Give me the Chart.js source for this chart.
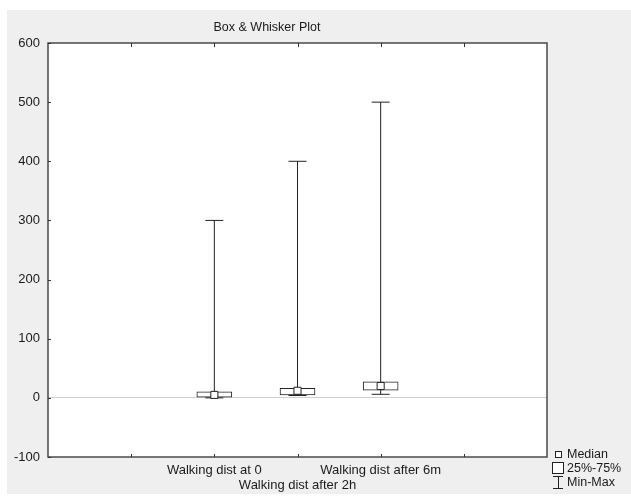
<!DOCTYPE html>
<html>
<head>
<meta charset="utf-8">
<script src="https://cdn.jsdelivr.net/npm/chart.js@4/dist/chart.umd.min.js"></script>
<style>
  html, body { margin: 0; padding: 0; background: #fff; }
  canvas { display: block; }
</style>
</head>
<body>
<canvas id="c" width="631" height="497"></canvas>
<script>
// ---- data ----
const categories = ['Walking dist at 0', 'Walking dist after 2h', 'Walking dist after 6m'];
const minValues    = [0, 4, 6];
const q1Values     = [1, 5, 13];
const medianValues = [5, 12, 20];
const q3Values     = [10, 16, 27];
const maxValues    = [300, 400, 500];
const yTicks = [-100, 0, 100, 200, 300, 400, 500, 600];
const xTickPositions = [1, 2, 3, 4, 5];
const boxPositions = [2, 3, 4];
const titleText = 'Box & Whisker Plot';
const legendLabels = ['Median', '25%-75%', 'Min-Max'];

const FONT = "'Liberation Sans', Arial, Helvetica, sans-serif";
const INK = '#1a1a1a';

// whisker segments (line broken by null points)
const whiskerData = [];
boxPositions.forEach((x, i) => {
  whiskerData.push({x: x, y: minValues[i]});
  whiskerData.push({x: x, y: maxValues[i]});
  whiskerData.push({x: x + 0.5, y: null});
});
const capData = [];
boxPositions.forEach((x, i) => {
  capData.push({x: x, y: minValues[i]});
  capData.push({x: x, y: maxValues[i]});
});
const boxData = boxPositions.map((x, i) => ({x: x, y: [q1Values[i], q3Values[i]]}));
const medianData = boxPositions.map((x, i) => ({x: x, y: medianValues[i]}));

function labelFor(v) {
  const idx = boxPositions.indexOf(v);
  if (idx < 0) return '';
  return idx % 2 === 0 ? [categories[idx]] : ['', categories[idx]];
}

const decorPlugin = {
  id: 'decor',
  beforeDraw(chart) {
    const c = chart.ctx, a = chart.chartArea;
    c.save();
    c.fillStyle = '#ffffff';
    c.fillRect(0, 0, chart.width, chart.height);
    c.fillStyle = '#efefef';
    c.fillRect(7, 10, chart.width - 7, 484);
    c.fillStyle = '#ffffff';
    c.fillRect(a.left, a.top, a.right - a.left, a.bottom - a.top);
    c.restore();
  },
  afterDraw(chart) {
    const c = chart.ctx, a = chart.chartArea;
    const xs = chart.scales.x, ys = chart.scales.y;
    c.save();
    // frame
    c.strokeStyle = '#4a4a4a';
    c.lineWidth = 1.5;
    c.strokeRect(a.left, a.top, a.right - a.left, a.bottom - a.top);
    // inner ticks
    c.lineWidth = 1;
    c.strokeStyle = '#333';
    c.beginPath();
    xTickPositions.forEach(v => {
      const px = Math.round(xs.getPixelForValue(v)) + 0.5;
      c.moveTo(px, a.top); c.lineTo(px, a.top + 4);
      c.moveTo(px, a.bottom); c.lineTo(px, a.bottom - 3);
    });
    yTicks.forEach(v => {
      const py = Math.round(ys.getPixelForValue(v)) + 0.5;
      c.moveTo(a.left, py); c.lineTo(a.left + 3, py);
    });
    c.stroke();
    // title
    c.fillStyle = INK;
    c.font = '12.5px ' + FONT;
    c.textAlign = 'center';
    c.textBaseline = 'middle';
    c.fillText(titleText, 267, 28);
    // legend
    const lx = 558, rows = [454, 468, 482];
    c.strokeStyle = '#222';
    c.lineWidth = 1;
    c.fillStyle = '#fff';
    c.fillRect(lx - 3, rows[0] - 3, 6, 6);
    c.strokeRect(lx - 3 + 0.5, rows[0] - 3 + 0.5, 6, 6);
    c.fillRect(lx - 6, rows[1] - 6, 11, 11);
    c.strokeRect(lx - 6 + 0.5, rows[1] - 6 + 0.5, 11, 11);
    c.beginPath();
    c.moveTo(lx - 5, rows[2] - 6 + 0.5); c.lineTo(lx + 5, rows[2] - 6 + 0.5);
    c.moveTo(lx + 0.5, rows[2] - 6); c.lineTo(lx + 0.5, rows[2] + 6);
    c.moveTo(lx - 5, rows[2] + 6 + 0.5); c.lineTo(lx + 5, rows[2] + 6 + 0.5);
    c.stroke();
    c.fillStyle = INK;
    c.font = '12.5px ' + FONT;
    c.textAlign = 'left';
    legendLabels.forEach((t, i) => c.fillText(t, 567, rows[i] + 1));
    c.restore();
  }
};

new Chart(document.getElementById('c'), {
  type: 'bar',
  data: {
    datasets: [
      {
        type: 'line',
        data: whiskerData,
        borderColor: '#222',
        borderWidth: 1,
        pointRadius: 0,
        spanGaps: false,
        fill: false,
        order: 4
      },
      {
        type: 'scatter',
        data: capData,
        pointStyle: 'line',
        pointRadius: 9,
        borderColor: '#222',
        borderWidth: 1,
        order: 3
      },
      {
        type: 'bar',
        data: boxData,
        backgroundColor: '#ffffff',
        borderColor: '#222',
        borderWidth: 1,
        borderSkipped: false,
        barThickness: 35,
        grouped: false,
        order: 2
      },
      {
        type: 'scatter',
        data: medianData,
        pointStyle: 'rect',
        pointRadius: 5,
        backgroundColor: '#ffffff',
        borderColor: '#222',
        borderWidth: 1,
        order: 1
      }
    ]
  },
  options: {
    responsive: false,
    devicePixelRatio: 1,
    animation: false,
    layout: { padding: { left: 0, right: 84, top: 43, bottom: 0 } },
    plugins: {
      legend: { display: false },
      tooltip: { enabled: false },
      title: { display: false }
    },
    scales: {
      x: {
        type: 'linear',
        min: 0,
        max: 6,
        offset: false,
        afterBuildTicks(scale) { scale.ticks = xTickPositions.map(v => ({value: v})); },
        afterFit(scale) { scale.height = 40; },
        grid: { display: false, drawTicks: false, offset: false },
        border: { display: false },
        ticks: {
          autoSkip: false,
          maxRotation: 0,
          padding: 6,
          color: INK,
          font: { family: FONT, size: 13, lineHeight: 1.15 },
          callback: (v) => labelFor(v)
        }
      },
      y: {
        type: 'linear',
        min: -100,
        max: 600,
        afterBuildTicks(scale) { scale.ticks = yTicks.map(v => ({value: v})); },
        afterFit(scale) { scale.width = 48; },
        grid: {
          drawTicks: false,
          lineWidth: 1,
          color: (ctx) => (ctx.tick && ctx.tick.value === 0) ? '#cfcfcf' : 'rgba(0,0,0,0)'
        },
        border: { display: false },
        ticks: {
          padding: 8,
          color: INK,
          font: { family: FONT, size: 13 }
        }
      }
    }
  },
  plugins: [decorPlugin]
});
</script>
</body>
</html>
